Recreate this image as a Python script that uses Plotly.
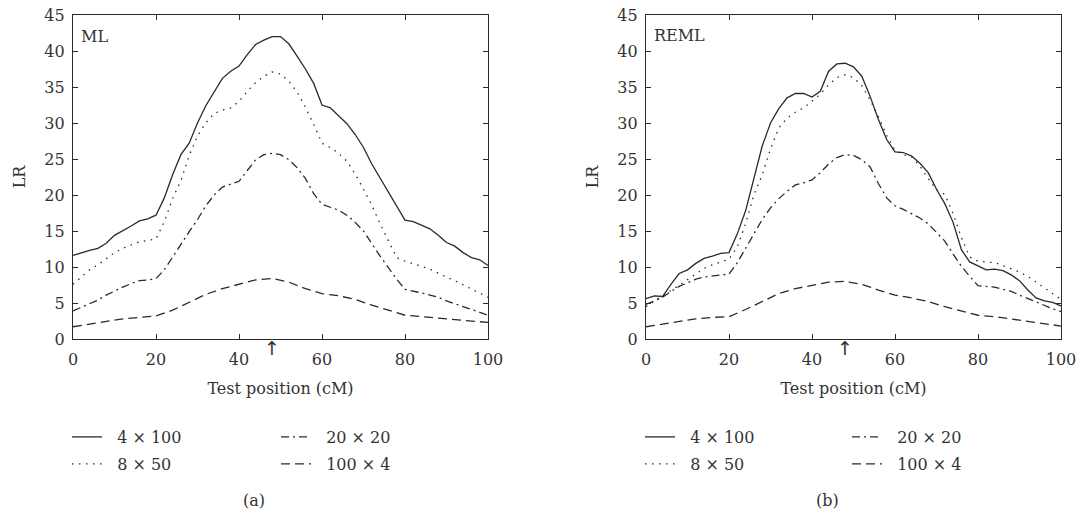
import plotly.graph_objects as go

# ---------------- data ----------------
series_names = ["4 × 100", "8 × 50", "20 × 20", "100 × 4"]

x_fine = [0, 2, 4, 6, 8, 10, 12, 14, 16, 18, 20, 22, 24, 26, 28, 30, 32, 34, 36, 38, 40,
          42, 44, 46, 48, 50, 52, 54, 56, 58, 60, 62, 64, 66, 68, 70, 72, 74, 76, 78, 80,
          82, 84, 86, 88, 90, 92, 94, 96, 98, 100]
x_coarse = [0, 4, 8, 12, 16, 20, 24, 28, 32, 36, 40, 44, 48, 52, 56, 60, 64, 68, 72, 76,
            80, 84, 88, 92, 96, 100]

ml_4x100 = [11.6, 12.0, 12.3, 12.6, 13.3, 14.4, 15.0, 15.7, 16.4, 16.7, 17.2, 19.6, 22.8,
            25.6, 27.2, 30.0, 32.4, 34.4, 36.2, 37.2, 37.9, 39.5, 40.9, 41.5, 42.0, 42.0,
            41.0, 39.3, 37.5, 35.5, 32.5, 32.1, 31.0, 29.9, 28.4, 26.6, 24.3, 22.3, 20.3,
            18.3, 16.5, 16.3, 15.8, 15.3, 14.4, 13.4, 12.9, 12.0, 11.3, 11.0, 10.2]
ml_8x50 = [7.6, 8.6, 9.6, 10.3, 11.2, 12.0, 12.6, 13.1, 13.5, 13.7, 13.9, 16.3, 19.5, 22.0,
           25.5, 28.2, 30.0, 31.3, 31.8, 32.1, 33.0, 34.4, 35.6, 36.5, 37.1, 36.8, 35.8,
           34.3, 32.2, 29.8, 27.2, 26.6, 25.8, 24.7, 22.9, 20.8, 18.6, 16.0, 13.6, 11.3,
           10.8, 10.5, 10.1, 9.7, 9.1, 8.6, 8.1, 7.5, 6.9, 6.3, 5.8]
ml_20x20 = [3.9, 4.4, 4.9, 5.4, 6.1, 6.7, 7.2, 7.7, 8.1, 8.2, 8.4, 9.6, 11.4, 13.1, 14.9,
            16.6, 18.5, 20.0, 21.1, 21.5, 21.9, 23.4, 24.9, 25.6, 25.8, 25.6, 24.9, 23.8,
            22.3, 20.2, 18.7, 18.3, 17.9, 17.2, 16.2, 15.0, 13.2, 11.5, 9.9, 8.3, 6.9, 6.7,
            6.4, 6.1, 5.8, 5.3, 4.9, 4.5, 4.0, 3.6, 3.3]
ml_100x4 = [1.7, 2.1, 2.5, 2.8, 3.0, 3.2, 4.0, 5.1, 6.2, 7.0, 7.6, 8.2, 8.4, 7.9, 7.0, 6.3,
            6.0, 5.5, 4.7, 4.0, 3.3, 3.1, 2.9, 2.7, 2.5, 2.3]

reml_4x100 = [5.6, 6.0, 5.9, 7.6, 9.1, 9.6, 10.5, 11.2, 11.5, 11.9, 12.0, 14.6, 17.8, 22.5,
              26.8, 30.0, 32.0, 33.5, 34.1, 34.1, 33.6, 34.4, 37.2, 38.2, 38.3, 37.8, 36.5,
              33.7, 30.5, 27.7, 26.0, 25.9, 25.4, 24.4, 23.1, 20.8, 18.8, 16.2, 12.4, 10.7,
              10.2, 9.6, 9.7, 9.5, 8.9, 8.1, 6.8, 5.7, 5.3, 5.1, 4.6]
reml_8x50 = [4.5, 5.3, 6.0, 6.7, 7.5, 8.2, 9.1, 9.8, 10.3, 10.7, 11.1, 12.8, 16.0, 20.0,
             22.8, 26.4, 29.3, 30.7, 31.5, 32.1, 33.0, 34.0, 35.3, 36.3, 36.7, 36.3, 35.2,
             33.2, 30.9, 28.3, 26.2, 25.6, 25.3, 24.0, 22.3, 20.7, 20.1, 17.4, 14.1, 11.4,
             10.8, 10.7, 10.6, 10.2, 9.8, 9.3, 8.7, 7.9, 7.1, 6.3, 5.5]
reml_20x20 = [4.8, 5.3, 5.8, 6.6, 7.3, 7.8, 8.3, 8.6, 8.8, 8.9, 9.0, 10.6, 12.6, 14.6, 16.6,
              18.2, 19.5, 20.5, 21.4, 21.7, 22.1, 23.1, 24.3, 25.2, 25.6, 25.5, 24.9, 23.9,
              21.6, 19.6, 18.5, 18.0, 17.4, 16.8, 16.0, 14.8, 13.6, 11.8, 10.1, 8.7, 7.4,
              7.3, 7.2, 6.9, 6.6, 6.1, 5.6, 5.1, 4.6, 4.2, 3.8]
reml_100x4 = [1.7, 2.1, 2.5, 2.8, 3.0, 3.1, 4.1, 5.2, 6.3, 7.0, 7.5, 7.9, 8.0, 7.6, 6.8,
              6.1, 5.7, 5.2, 4.5, 3.9, 3.3, 3.1, 2.8, 2.5, 2.1, 1.8]

x_ticks = [0, 20, 40, 60, 80, 100]
y_ticks = [0, 5, 10, 15, 20, 25, 30, 35, 40, 45]
qtl_position = 48
panel_labels = ["ML", "REML"]
captions = ["(a)", "(b)"]

# ---------------- styling ----------------
W, H = 1077, 514
FONT = "DejaVu Serif"
FS = 16
INK = "#2a2a2a"
TXT = "#333333"
dashes = ["solid", "1.5px,5.5px", "8px,4px,2px,4px", "9px,5px"]


def px(xp):
    return xp / W


def py(yp):
    return 1 - yp / H


fig = go.Figure()

panels = [
    ("x", "y", [ml_4x100, ml_8x50, ml_20x20, ml_100x4]),
    ("x2", "y2", [reml_4x100, reml_8x50, reml_20x20, reml_100x4]),
]
legend_ids = [["legend", "legend2", "legend3", "legend4"],
              ["legend5", "legend6", "legend7", "legend8"]]

for p, (xa, ya, ys) in enumerate(panels):
    for i, yv in enumerate(ys):
        xs = x_coarse if i == 3 else x_fine
        fig.add_trace(go.Scatter(
            x=xs, y=yv, mode="lines", xaxis=xa, yaxis=ya,
            name="\u00a0\u00a0" + series_names[i],
            line=dict(color=INK, width=1.3, dash=dashes[i]),
            legend=legend_ids[p][i], showlegend=True, hoverinfo="skip"))

# panel geometry in pixels
x_dom = [(73, 488), (646, 1061)]
y_top, y_bot = 15, 339

axis_common = dict(
    showline=True, linecolor=INK, linewidth=1.4, mirror="ticks",
    ticks="inside", ticklen=5, tickwidth=1.2, tickcolor=INK,
    showgrid=False, zeroline=False, automargin=False,
    tickfont=dict(family=FONT, size=FS, color=TXT),
)

layout = dict(
    width=W, height=H,
    margin=dict(l=0, r=0, t=0, b=0, autoexpand=False),
    paper_bgcolor="white", plot_bgcolor="white",
    font=dict(family=FONT, size=FS, color=TXT),
)

for p in range(2):
    sfx = "" if p == 0 else "2"
    layout["xaxis" + sfx] = dict(
        axis_common, domain=[px(x_dom[p][0]), px(x_dom[p][1])],
        range=[0, 100], tickvals=x_ticks, ticklabelstandoff=6,
        anchor="y" + sfx,
        title=dict(text="Test position (cM)", standoff=14,
                   font=dict(family=FONT, size=FS, color=TXT)))
    layout["yaxis" + sfx] = dict(
        axis_common, domain=[py(y_bot), py(y_top)],
        range=[0, 45], tickvals=y_ticks, ticklabelstandoff=4,
        anchor="x" + sfx,
        title=dict(text="LR", standoff=14,
                   font=dict(family=FONT, size=FS, color=TXT)))

# legends: 2 columns x 2 rows per panel
leg_cols = [(73, 282), (646, 853)]
leg_rows = [437, 464]
for p in range(2):
    for i in range(4):
        col, row = i // 2, i % 2
        key = legend_ids[p][i]
        layout[key] = dict(
            x=px(leg_cols[p][col] - 6), y=py(leg_rows[row]),
            xanchor="left", yanchor="middle",
            bgcolor="rgba(0,0,0,0)", borderwidth=0,
            font=dict(family=FONT, size=FS, color=TXT),
            itemclick=False, itemdoubleclick=False)

fig.update_layout(**layout)

annotations = []
label_pos = [(79, 37), (652, 36)]
caption_pos = [(254, 500), (827, 500)]
for p in range(2):
    sfx = "" if p == 0 else "2"
    annotations.append(dict(
        text=panel_labels[p], x=px(label_pos[p][0]), y=py(label_pos[p][1]),
        xref="paper", yref="paper", xanchor="left", yanchor="middle",
        showarrow=False, font=dict(family=FONT, size=FS, color=TXT)))
    annotations.append(dict(
        text=captions[p], x=px(caption_pos[p][0]), y=py(caption_pos[p][1]),
        xref="paper", yref="paper", xanchor="center", yanchor="middle",
        showarrow=False, font=dict(family=FONT, size=FS, color=TXT)))
    annotations.append(dict(
        text="↑", x=qtl_position, xref="x" + sfx,
        y=py(348), yref="paper", xanchor="center", yanchor="middle",
        showarrow=False, font=dict(family="DejaVu Sans", size=19, color=TXT)))
fig.update_layout(annotations=annotations)

fig.write_html(
    "out.html",
    config={"displayModeBar": False},
    post_script="document.body.style.margin='0';document.body.style.overflow='hidden';",
)
